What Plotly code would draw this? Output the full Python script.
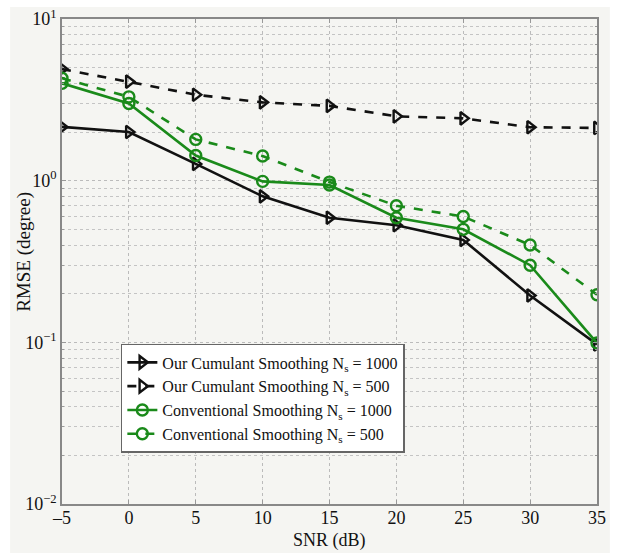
import plotly.graph_objects as go

snr = [-5, 0, 5, 10, 15, 20, 25, 30, 35]
cum_1000 = [2.15, 2.0, 1.27, 0.80, 0.59, 0.53, 0.43, 0.195, 0.097]
cum_500 = [4.9, 4.1, 3.4, 3.05, 2.9, 2.5, 2.43, 2.14, 2.12]
conv_1000 = [4.0, 3.0, 1.43, 0.99, 0.94, 0.59, 0.50, 0.30, 0.099]
conv_500 = [4.3, 3.3, 1.8, 1.42, 0.98, 0.70, 0.60, 0.40, 0.197]

names = ["Our Cumulant Smoothing N<sub>s</sub> = 1000",
         "Our Cumulant Smoothing N<sub>s</sub> = 500",
         "Conventional Smoothing N<sub>s</sub> = 1000",
         "Conventional Smoothing N<sub>s</sub> = 500"]

xticks = [-5, 0, 5, 10, 15, 20, 25, 30, 35]
xticktext = ["–5", "0", "5", "10", "15", "20", "25", "30", "35"]
yticks = [0.01, 0.1, 1, 10]
yticktext = ["10<sup>−2</sup>", "10<sup>−1</sup>", "10<sup>0</sup>", "10<sup>1</sup>"]
yminor = [m * d for d in (0.01, 0.1, 1) for m in range(2, 10)]

FONT = "Liberation Serif, Times New Roman, serif"
BLACK = "#111111"
GREEN = "#1a8a1a"

fig = go.Figure()
series = [
    (cum_1000, BLACK, "solid", "triangle-right-open"),
    (cum_500, BLACK, "dash", "triangle-right-open"),
    (conv_1000, GREEN, "solid", "circle-open"),
    (conv_500, GREEN, "dash", "circle-open"),
]
for (vals, col, dash, sym), nm in zip(series, names):
    fig.add_trace(go.Scatter(
        x=snr, y=vals, name=nm, mode="lines+markers",
        line=dict(color=col, width=2.6, dash=dash),
        marker=dict(symbol=sym, size=11, color=col, line=dict(color=col, width=2.4)),
    ))

fig.add_shape(type="rect", xref="paper", yref="paper",
              x0=-0.097, x1=1.024, y0=-0.12, y1=1.025,
              fillcolor="#f5f5f2", line=dict(width=0), layer="below")

fig.add_annotation(text="SNR (dB)", xref="paper", yref="paper", x=0.5, y=-0.101,
                   xanchor="center", yanchor="bottom", showarrow=False,
                   font=dict(family=FONT, size=18, color="#111111"))
fig.add_annotation(text="RMSE (degree)", xref="paper", yref="paper", x=-0.071, y=0.52,
                   xanchor="center", yanchor="middle", showarrow=False, textangle=-90,
                   font=dict(family=FONT, size=19, color="#111111"))

fig.update_layout(
    width=617, height=553,
    margin=dict(l=62, r=20, t=19, b=49),
    paper_bgcolor="white", plot_bgcolor="#fafaf8",
    font=dict(family=FONT, size=18, color="#111111"),
    showlegend=True,
    legend=dict(x=0.11, y=0.33, xanchor="left", yanchor="top",
                bgcolor="white", bordercolor="#666666", borderwidth=1.5,
                font=dict(family=FONT, size=16, color="#111111"),
                tracegroupgap=0, itemwidth=30),
)
fig.update_xaxes(
    range=[-5, 35], tickvals=xticks, ticktext=xticktext, automargin=False,
    showline=True, linecolor="#888888", linewidth=1.5, mirror="allticks",
    ticks="inside", ticklen=4, tickcolor="#999999", ticklabelstandoff=-3,
    showgrid=True, gridcolor="#bbbbbb", griddash="dot", gridwidth=1,
    zeroline=False,
)
fig.update_yaxes(
    type="log", range=[-2, 1], tickvals=yticks, ticktext=yticktext, automargin=False,
    showline=True, linecolor="#888888", linewidth=1.5, mirror="allticks",
    ticks="inside", ticklen=4, tickcolor="#999999", ticklabelstandoff=0,
    showgrid=True, gridcolor="#bbbbbb", griddash="dot", gridwidth=1,
    minor=dict(tickvals=yminor, showgrid=True, gridcolor="#c4c4c4", griddash="dot",
               ticks="inside", ticklen=2, tickcolor="#999999"),
    zeroline=False,
)

fig.write_html("out.html", config={"displayModeBar": False},
               post_script="document.body.style.margin='0px';")
